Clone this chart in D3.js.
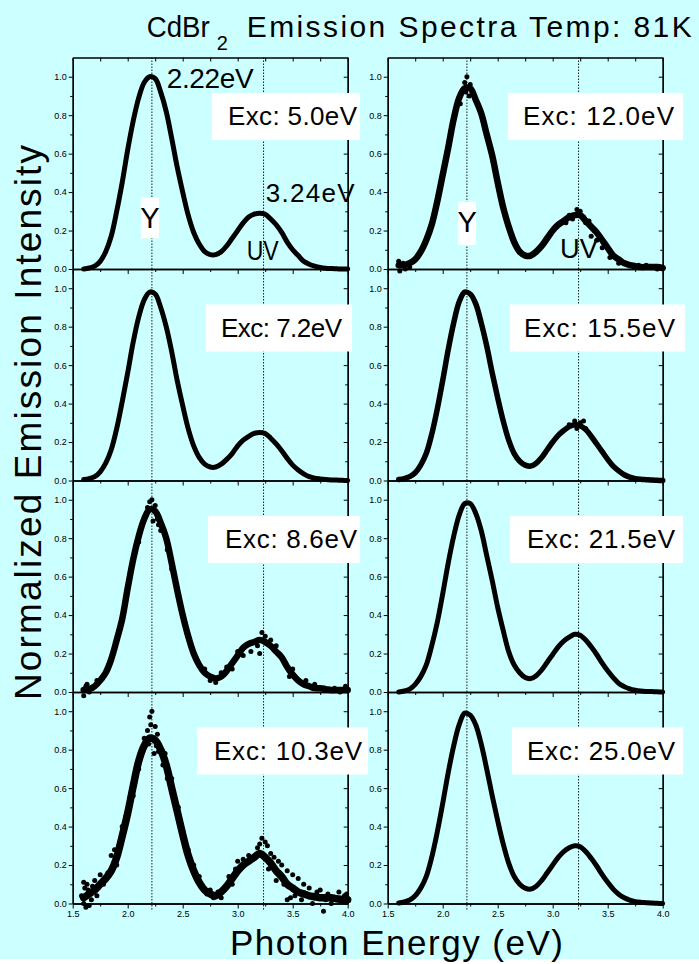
<!DOCTYPE html>
<html>
<head>
<meta charset="utf-8">
<script src="https://cdn.jsdelivr.net/npm/d3@7"></script>
<style>
  body { margin: 0; background: #fff; }
  text { font-family: "Liberation Sans", Arial, sans-serif; }
</style>
</head>
<body>
<div id="viz"></div>
<script>
// photon energy grid (eV)
var energy = [1.60,1.65,1.70,1.75,1.80,1.85,1.90,1.95,2.00,2.05,2.10,2.15,2.20,2.25,2.30,2.35,2.40,2.45,2.50,2.55,2.60,2.65,2.70,2.75,2.80,2.85,2.90,2.95,3.00,3.05,3.10,3.15,3.20,3.25,3.30,3.35,3.40,3.45,3.50,3.55,3.60,3.65,3.70,3.75,3.80,3.85,3.90,3.95,4.00];

// normalized intensity per excitation energy
var exc50  = [0.00,0.005,0.015,0.04,0.09,0.17,0.30,0.45,0.62,0.77,0.89,0.97,1.00,0.99,0.92,0.82,0.68,0.53,0.40,0.28,0.19,0.13,0.09,0.075,0.075,0.09,0.12,0.16,0.20,0.24,0.27,0.285,0.29,0.285,0.26,0.23,0.19,0.14,0.10,0.07,0.04,0.025,0.015,0.008,0.004,0.002,0.001,0.0,0.0];
var exc72  = [0.005,0.01,0.02,0.045,0.09,0.16,0.27,0.41,0.56,0.72,0.85,0.94,0.98,0.97,0.90,0.80,0.67,0.52,0.39,0.27,0.18,0.12,0.085,0.07,0.07,0.085,0.11,0.14,0.18,0.21,0.23,0.245,0.25,0.245,0.22,0.19,0.155,0.115,0.08,0.055,0.035,0.02,0.012,0.008,0.005,0.003,0.002,0.001,0.0];
var exc86  = [0.01,0.015,0.03,0.06,0.10,0.17,0.27,0.38,0.54,0.69,0.81,0.90,0.95,0.94,0.88,0.80,0.67,0.53,0.40,0.29,0.20,0.14,0.10,0.08,0.07,0.08,0.11,0.15,0.19,0.23,0.25,0.26,0.27,0.26,0.24,0.21,0.18,0.13,0.09,0.06,0.04,0.03,0.02,0.02,0.015,0.01,0.01,0.01,0.01];
var exc103 = [0.03,0.05,0.07,0.10,0.13,0.17,0.24,0.35,0.47,0.61,0.74,0.82,0.86,0.85,0.80,0.72,0.60,0.48,0.36,0.25,0.17,0.11,0.07,0.05,0.04,0.06,0.09,0.13,0.17,0.20,0.22,0.24,0.26,0.24,0.21,0.17,0.14,0.10,0.08,0.06,0.05,0.04,0.035,0.03,0.03,0.03,0.025,0.02,0.02];
var exc120 = [0.02,0.02,0.03,0.05,0.09,0.15,0.23,0.35,0.49,0.63,0.78,0.89,0.94,0.94,0.88,0.81,0.70,0.59,0.45,0.32,0.22,0.14,0.09,0.07,0.07,0.09,0.12,0.16,0.20,0.23,0.25,0.27,0.28,0.28,0.25,0.22,0.19,0.15,0.11,0.07,0.05,0.03,0.02,0.015,0.01,0.01,0.01,0.01,0.005];
var exc155 = [0.005,0.01,0.02,0.04,0.08,0.14,0.24,0.37,0.52,0.68,0.82,0.93,0.98,0.97,0.92,0.82,0.70,0.56,0.43,0.31,0.21,0.14,0.10,0.08,0.075,0.09,0.12,0.16,0.20,0.235,0.26,0.28,0.29,0.285,0.265,0.23,0.19,0.15,0.11,0.075,0.05,0.03,0.018,0.01,0.006,0.004,0.002,0.001,0.0];
var exc215 = [0.00,0.005,0.015,0.04,0.08,0.14,0.24,0.36,0.51,0.67,0.81,0.92,0.98,0.98,0.93,0.84,0.71,0.58,0.44,0.32,0.21,0.14,0.10,0.075,0.07,0.085,0.115,0.155,0.195,0.235,0.265,0.285,0.30,0.295,0.27,0.235,0.195,0.15,0.11,0.075,0.045,0.028,0.016,0.009,0.005,0.003,0.002,0.001,0.0];
var exc250 = [0.003,0.008,0.018,0.04,0.08,0.14,0.24,0.37,0.52,0.68,0.82,0.93,0.99,0.98,0.93,0.83,0.70,0.56,0.43,0.31,0.21,0.14,0.10,0.08,0.075,0.09,0.12,0.16,0.20,0.24,0.27,0.29,0.30,0.295,0.27,0.235,0.195,0.15,0.11,0.075,0.048,0.03,0.018,0.01,0.006,0.004,0.002,0.001,0.0];

// scattered (noisy) points, [eV, intensity]
var noise86  = [[2.20,0.99],[2.22,1.0],[2.25,0.97],[2.18,0.96],[2.23,0.89],[2.27,0.90],[2.28,0.87],[2.16,0.92],[2.30,0.84],[2.10,0.78],[2.07,0.75],[2.36,0.74],[2.40,0.64],
  [1.60,-0.02],[1.62,0.03],[1.65,0.00],[1.63,0.04],[1.68,0.02],[1.72,0.06],[1.77,0.07],
  [2.70,0.12],[2.75,0.06],[2.80,0.05],[2.85,0.10],[2.90,0.13],[2.95,0.12],[3.00,0.21],
  [3.22,0.31],[3.20,0.20],[3.18,0.24],[3.25,0.29],[3.28,0.25],[3.30,0.27],[3.35,0.24],[3.43,0.15],[3.50,0.12],[3.47,0.08],[3.58,0.05],[3.62,0.06],[3.70,0.04],[3.78,0.02],[3.88,0.02],[3.93,0.00],[3.98,0.03],[3.12,0.21],[3.05,0.19]];
var noise103 = [[2.20,0.97],[2.22,1.0],[2.21,0.93],[2.18,0.90],[2.25,0.92],[2.27,0.88],[2.15,0.86],[2.24,0.78],[2.28,0.79],[2.14,0.80],[2.19,0.83],[2.23,0.85],[2.17,0.84],[2.26,0.82],
  [1.85,0.25],[1.88,0.28],[1.92,0.30],[1.95,0.40],[1.98,0.45],[2.02,0.55],[2.05,0.56],[2.08,0.72],[2.10,0.70],[1.82,0.16],[1.90,0.20],
  [2.32,0.72],[2.36,0.65],[2.40,0.65],[2.43,0.52],[2.48,0.42],[2.52,0.30],[2.55,0.28],[2.60,0.20],[2.65,0.14],[2.68,0.09],[2.34,0.78],[2.46,0.50],
  [1.60,0.11],[1.61,0.08],[1.63,0.10],[1.62,-0.02],[1.65,-0.01],[1.58,0.04],[1.67,0.02],[1.70,0.12],[1.72,0.04],[1.66,0.06],[1.75,0.15],[1.78,0.10],[1.60,0.00],[1.64,0.07],[1.68,0.09],[1.73,0.08],
  [2.78,0.03],[2.82,0.06],[2.75,0.07],[2.85,0.03],[2.72,0.05],[2.88,0.08],[2.92,0.14],[2.95,0.10],[2.98,0.18],
  [3.22,0.34],[3.25,0.32],[3.20,0.31],[3.18,0.29],[3.27,0.30],[3.30,0.26],[3.33,0.24],[3.37,0.22],[3.40,0.20],[3.45,0.17],[3.50,0.15],[3.55,0.13],[3.05,0.23],[3.00,0.22],[3.10,0.25],[3.28,0.18],[3.35,0.12],[3.42,0.10],[3.48,0.03],[3.45,0.02],[3.52,0.04],[3.60,0.10],[3.65,0.08],[3.70,0.03],[3.75,0.07],[3.78,-0.04],[3.82,0.05],[3.88,0.02],[3.92,0.06],[3.97,0.04],[3.99,0.05],[3.85,0.00],[3.58,0.02],[3.62,0.05],[3.68,0.00],[3.72,0.06],[3.80,0.02],[3.95,0.01]];
var noise120 = [[2.22,1.0],[2.20,0.97],[2.18,0.93],[2.16,0.86],[2.14,0.87],[2.25,0.96],[2.27,0.92],[2.21,0.92],[2.24,0.90],[1.60,0.04],[1.61,-0.01],[1.64,0.03],[1.66,0.00],[1.70,0.01],[1.62,0.02],
  [3.22,0.31],[3.25,0.30],[3.28,0.27],[3.30,0.24],[3.18,0.26],[3.12,0.24],[3.35,0.17],[3.40,0.15],[3.45,0.11],[3.38,0.20],[3.52,0.06],[3.33,0.25],[3.15,0.28],[3.60,0.03],[3.85,0.02],[3.95,0.00],[3.78,0.02],[3.90,0.01]];
var noise155 = [[3.20,0.31],[3.25,0.30],[3.30,0.27],[3.15,0.29],[3.28,0.31],[3.22,0.27]];

// panel labels
var excLabels = ["Exc: 5.0eV","Exc: 7.2eV","Exc: 8.6eV","Exc: 10.3eV","Exc: 12.0eV","Exc: 15.5eV","Exc: 21.5eV","Exc: 25.0eV"];
var peakLines = [2.22, 3.235];
var xTicks = [1.5, 2.0, 2.5, 3.0, 3.5, 4.0];
var xMinor = [1.75, 2.25, 2.75, 3.25, 3.75];
var yTicks = [0, 0.2, 0.4, 0.6, 0.8, 1.0];
var yMinor = [0.1, 0.3, 0.5, 0.7, 0.9];

var series = [exc50, exc72, exc86, exc103, exc120, exc155, exc215, exc250];
var noise = [[], [], noise86, noise103, noise120, noise155, [], []];
var lineWidth = [5, 5, 6.5, 7.5, 6.5, 5.5, 5, 5];

// layout
var W = 699, H = 964;
var colX = [72.7, 387.7], pw = 275;
var rowBottom = [269, 480.5, 692, 903.5], ph = 211.5;
// label boxes: [boxLeft, boxRight, textLeft, textWidth]
var boxes = [[212,360,228,129],[206,352,221,121],[208,360,225,132],[197,368,214,148],
             [508,683,523,151],[510,685,524,151],[510,683,527,148],[512,683,527,148]];

var svg = d3.select("#viz").append("svg")
    .attr("width", W).attr("height", H);

svg.append("rect").attr("width", W).attr("height", 959).attr("fill", "#ccffff");

var line = d3.line().curve(d3.curveCatmullRom);

series.forEach(function(vals, i) {
  var col = Math.floor(i / 4), row = i % 4;
  var x0 = colX[col], yb = rowBottom[row];
  var xs = d3.scaleLinear().domain([1.5, 4.0]).range([x0, x0 + pw]);
  var ys = d3.scaleLinear().domain([0, 1.1]).range([yb, yb - ph]);
  var g = svg.append("g");

  // dotted peak markers
  peakLines.forEach(function(e) {
    g.append("line")
      .attr("x1", xs(e)).attr("x2", xs(e))
      .attr("y1", yb - ph).attr("y2", yb + (row == 3 ? 6 : 0))
      .attr("stroke", "#000").attr("stroke-width", 0.9)
      .attr("stroke-dasharray", "1.5,1.5");
  });

  // axes
  var left = g.append("g").attr("transform", "translate(" + x0 + ",0)")
    .call(d3.axisLeft(ys).tickValues(yTicks).tickSize(4).tickSizeOuter(0).tickPadding(2)
      .tickFormat(d3.format(".1f")));
  left.selectAll("text").attr("font-size", 9).attr("font-family", "Liberation Sans, Arial");
  g.append("g").attr("transform", "translate(" + x0 + ",0)")
    .call(d3.axisLeft(ys).tickValues(yMinor).tickSize(2.5).tickSizeOuter(0).tickFormat(""));
  g.append("g").attr("transform", "translate(" + (x0 + pw) + ",0)")
    .call(d3.axisLeft(ys).tickValues(yTicks).tickSize(4).tickSizeOuter(0).tickFormat(""));
  g.append("g").attr("transform", "translate(" + (x0 + pw) + ",0)")
    .call(d3.axisLeft(ys).tickValues(yMinor).tickSize(2.5).tickSizeOuter(0).tickFormat(""));

  var bottom = g.append("g").attr("transform", "translate(0," + yb + ")")
    .call(d3.axisBottom(xs).tickValues(xTicks).tickSize(5).tickSizeOuter(0).tickPadding(2)
      .tickFormat(row == 3 ? d3.format(".1f") : ""));
  bottom.selectAll("text").attr("font-size", 9).attr("font-family", "Liberation Sans, Arial");
  g.append("g").attr("transform", "translate(0," + yb + ")")
    .call(d3.axisBottom(xs).tickValues(xMinor).tickSize(3).tickSizeOuter(0).tickFormat(""));
  if (row == 0) {
    g.append("g").attr("transform", "translate(0," + (yb - ph) + ")")
      .call(d3.axisBottom(xs).tickValues(xTicks.concat(xMinor)).tickSize(4).tickSizeOuter(0).tickFormat(""));
  }
  g.selectAll(".domain").attr("stroke-width", 1.3);

  // spectrum
  var pts = energy.map(function(e, k) { return [xs(e), ys(vals[k])]; });
  g.append("path")
    .attr("d", line(pts))
    .attr("fill", "none").attr("stroke", "#000")
    .attr("stroke-width", lineWidth[i])
    .attr("stroke-linecap", "round").attr("stroke-linejoin", "round");
  g.selectAll("circle.n").data(noise[i]).enter().append("circle")
    .attr("cx", function(d) { return xs(d[0]); })
    .attr("cy", function(d) { return ys(d[1]); })
    .attr("r", 2.5).attr("fill", "#000");

  // excitation label
  var b = boxes[i], top = yb - ph;
  g.append("rect").attr("x", b[0]).attr("y", top + 35.5)
    .attr("width", b[1] - b[0]).attr("height", 47).attr("fill", "#fff");
  g.append("text").attr("x", b[2]).attr("y", top + 67.5)
    .attr("font-size", 26).attr("textLength", b[3]).attr("lengthAdjust", "spacing")
    .text(excLabels[i]);

  // band labels on first row
  if (row == 0) {
    var yb0 = col == 0 ? [141, 197.7, 18, 40.6, 228.3] : [458.3, 201.7, 17.7, 43.3, 231.7];
    g.append("rect").attr("x", yb0[0]).attr("y", yb0[1]).attr("width", yb0[2]).attr("height", yb0[3]).attr("fill", "#fff");
    g.append("text").attr("x", yb0[0] + yb0[2] / 2).attr("y", yb0[4])
      .attr("text-anchor", "middle").attr("font-size", 29).text("Y");
    g.append("text").attr("x", col == 0 ? 246.7 : 560).attr("y", col == 0 ? 260 : 258.3)
      .attr("font-size", 27).attr("textLength", col == 0 ? 32 : 38).attr("lengthAdjust", "spacingAndGlyphs")
      .text("UV");
  }
  if (i == 0) {
    g.append("text").attr("x", 166.7).attr("y", 88.3).attr("font-size", 28)
      .attr("textLength", 87).attr("lengthAdjust", "spacing").text("2.22eV");
    g.append("text").attr("x", 265.7).attr("y", 201.7).attr("font-size", 26)
      .attr("textLength", 89).attr("lengthAdjust", "spacing").text("3.24eV");
  }
});

// title
svg.append("text").attr("x", 146.7).attr("y", 37.3).attr("font-size", 30)
  .attr("textLength", 63).attr("lengthAdjust", "spacingAndGlyphs").text("CdBr");
svg.append("text").attr("x", 216.7).attr("y", 50).attr("font-size", 20).text("2");
svg.append("text").attr("x", 246.7).attr("y", 37.3).attr("font-size", 30)
  .attr("textLength", 445).attr("lengthAdjust", "spacing").text("Emission Spectra Temp: 81K");

// axis titles
svg.append("text")
  .attr("transform", "translate(41,700) rotate(-90)")
  .attr("font-size", 37).attr("textLength", 555).attr("lengthAdjust", "spacing")
  .text("Normalized Emission Intensity");
svg.append("text").attr("x", 230).attr("y", 955).attr("font-size", 35)
  .attr("textLength", 333).attr("lengthAdjust", "spacing")
  .text("Photon Energy (eV)");
</script>
</body>
</html>
